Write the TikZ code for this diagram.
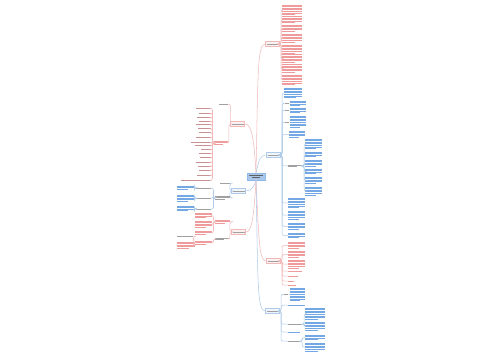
\documentclass[tikz,border=0pt]{standalone}
\usetikzlibrary{calc}
\definecolor{rtxt}{RGB}{240,155,155}
\definecolor{btxt}{RGB}{115,168,228}
\definecolor{gtxt}{RGB}{160,160,160}
\definecolor{rln}{RGB}{242,185,185}
\definecolor{bln}{RGB}{175,203,233}
\definecolor{gln}{RGB}{200,200,200}
\tikzset{
  conn/.style={line width=0.3pt,rounded corners=1.2pt},
  rc/.style={conn,draw=rln},
  bc/.style={conn,draw=bln},
  gc/.style={conn,draw=gln},
  tbox/.style={inner sep=0pt,anchor=north west},
  branch/.style={rectangle,inner sep=0pt,minimum width=0.28cm,minimum height=0.1cm,line width=0.3pt},
}
% text block: x y width lines colour name
\newcommand\tblk[6]{%
  \node[tbox,minimum width=#3*0.02cm,minimum height=#4*0.032cm] (#6) at (#1,#2) {};
  \foreach \k in {1,...,#4}{%
    \pgfmathsetmacro\ww{ifthenelse(and(\k==#4,#4>1),0.65*#3,#3)}%
    \draw[#5,line width=0.3pt] (#1,{#2+1.6*\k-0.8}) -- ++(\ww,0);}%
}
% branch node: name x y colour anchor
\newcommand\bnode[5]{%
  \node[branch,draw=#4,fill=#4!20,anchor=#5] (#1) at (#2,#3) {};
  \draw[gtxt,line width=0.4pt] ($(#1.west)+(1.5,0)$) -- ($(#1.east)+(-1.5,0)$);
}
% right-hand elbow connector and left-hand elbow connector
\newcommand\rcon[3]{\draw[#1] (#2.east) -- ++(1.5,0) |- (#3.west);}
\newcommand\lcon[3]{\draw[#1] (#2.west) -- ++(-1.5,0) |- (#3.east);}
\begin{document}
\begin{tikzpicture}[x=0.02cm,y=-0.02cm]
\fill[white] (0,0) rectangle (500,360);
\useasboundingbox (0,0) rectangle (500,360);

% centre
\node[draw=btxt!80,fill={rgb,255:red,170;green,200;blue,236},minimum width=0.36cm,minimum height=0.14cm,inner sep=0pt] (c) at (256,176.5) {};
\draw[gtxt!60!black,line width=0.4pt] (249,175.3) -- (263,175.3) (252,177.8) -- (260,177.8);

% main branches
\bnode{r1}{265}{44}{rln}{west}
\bnode{r2}{266}{155}{bln}{west}
\bnode{r3}{266}{261}{rln}{west}
\bnode{r4}{265}{311}{bln}{west}
\bnode{l1}{245}{124}{rln}{east}
\bnode{l2}{246}{191}{bln}{east}
\bnode{l3}{246}{232}{rln}{east}

\draw[rc,rounded corners=0pt] (c.north) .. controls (258,80) and (257,44) .. (r1.west);
\draw[bc,rounded corners=0pt] (c.north) .. controls (259,162) and (259,155) .. (r2.west);
\draw[rc,rounded corners=0pt] (c.south) .. controls (259,240) and (259,261) .. (r3.west);
\draw[bc,rounded corners=0pt] (c.south) .. controls (258,280) and (257,311) .. (r4.west);
\draw[rc,rounded corners=0pt] (c.north) .. controls (254,140) and (252,124) .. (l1.east);
\draw[bc,rounded corners=0pt] (c.south) .. controls (254,186) and (252,191) .. (l2.east);
\draw[rc,rounded corners=0pt] (c.south) .. controls (254,215) and (252,232) .. (l3.east);

% ---------- R1 ----------
\tblk{282}{4}{20}{7}{rtxt}{a1}
\tblk{282}{15.5}{20}{5}{rtxt}{a2}
\tblk{282}{24}{20}{5}{rtxt}{a3}
\tblk{282}{33}{20}{6}{rtxt}{a4}
\tblk{282}{44}{20}{6}{rtxt}{a5}
\tblk{282}{53.5}{20}{6}{rtxt}{a6}
\tblk{282}{63.5}{20}{6}{rtxt}{a7}
\tblk{282}{74}{20}{7}{rtxt}{a8}
\foreach \n in {a1,a2,a3,a4,a5,a6,a7,a8}{\rcon{rc}{r1}{\n}}

% ---------- R2 ----------
\tblk{284}{87}{18}{7}{btxt}{b1}
\tblk{285}{102}{4}{1}{gtxt}{bl1}
\tblk{285}{109}{4}{1}{gtxt}{bl2}
\tblk{285}{121}{4}{1}{gtxt}{bl3}
\tblk{290}{100}{16}{4}{btxt}{bb1}
\tblk{290}{107}{16}{4}{btxt}{bb2}
\tblk{290}{115}{16}{8}{btxt}{bb3}
\tblk{289}{130}{16}{5}{btxt}{b5}
\tblk{288}{164}{14}{2}{gtxt}{bs}
\tblk{288}{197}{17}{7}{btxt}{b6}
\tblk{288}{210}{17}{6}{btxt}{b7}
\tblk{288}{222}{17}{5}{btxt}{b8}
\tblk{288}{232}{17}{4}{btxt}{b9}
\foreach \n in {b1,bl1,bl2,bl3,b5,bs,b6,b7,b8,b9}{\rcon{bc}{r2}{\n}}
\draw[bc] (bl1.east) -- (bb1.west);
\draw[bc] (bl2.east) -- (bb2.west);
\draw[bc] (bl3.east) -- (bb3.west);
\tblk{305}{138}{17}{7}{btxt}{s1}
\tblk{305}{151}{17}{4}{btxt}{s2}
\tblk{305}{159}{17}{5}{btxt}{s3}
\tblk{305}{168}{17}{4}{btxt}{s4}
\tblk{305}{176}{17}{5}{btxt}{s5}
\tblk{305}{186}{17}{6}{btxt}{s6}
\foreach \n in {s1,s2,s3,s4,s5,s6}{\rcon{bc}{bs}{\n}}

% ---------- R3 ----------
\tblk{288}{241}{17}{5}{rtxt}{c1}
\tblk{288}{250}{17}{5}{rtxt}{c2}
\tblk{288}{259}{17}{6}{rtxt}{c3}
\tblk{288}{270}{14}{1}{rtxt}{c4}
\tblk{288}{275}{10}{1}{rtxt}{c5}
\tblk{288}{280}{6}{1}{rtxt}{c6}
\tblk{288}{284}{8}{1}{rtxt}{c7}
\foreach \n in {c1,c2,c3,c4,c5,c6,c7}{\rcon{rc}{r3}{\n}}

% ---------- R4 ----------
\tblk{284}{293}{4}{1}{gtxt}{d1}
\tblk{290}{287}{15}{9}{btxt}{d1b}
\tblk{288}{304}{17}{1}{btxt}{d2}
\tblk{288}{323}{14}{1}{gtxt}{d3}
\tblk{288}{331}{12}{1}{btxt}{d4}
\tblk{288}{340}{12}{1}{gtxt}{d5}
\foreach \n in {d1,d2,d3,d4,d5}{\rcon{bc}{r4}{\n}}
\draw[bc] (d1.east) -- (d1b.west);
\tblk{305}{307}{20}{8}{btxt}{e1}
\tblk{305}{321}{20}{6}{btxt}{e2}
\tblk{305}{334}{20}{4}{btxt}{e3}
\tblk{305}{342}{20}{6}{btxt}{e4}
\rcon{bc}{d3}{e1}
\rcon{bc}{d3}{e2}
\rcon{bc}{d5}{e3}
\rcon{bc}{d5}{e4}

% ---------- L1 ----------
\tblk{219}{103}{9}{1}{gtxt}{t1}
\draw[rc] (l1.north west) |- (t1.east);
\tblk{214}{140}{14}{3}{rtxt}{h1}
\lcon{rc}{l1}{h1}
\foreach \yy/\ww [count=\i] in {108/15,113/12,117/14,121/12,124.5/15,128.5/13,132.5/12,137/15,142/20,145.5/16,149.5/10,153.5/12,157.5/11,162/15,166/13,170/12,175/14,180/30}{%
  \tblk{211-\ww}{\yy-0.8}{\ww}{1}{rtxt!65!gray}{hi\i}
  \lcon{rc}{h1}{hi\i}
}

% ---------- L2 ----------
\tblk{220}{182}{10}{1}{gtxt}{f1}
\tblk{215}{195}{15}{3}{gtxt}{f2}
\lcon{bc}{l2}{f1}
\lcon{bc}{l2}{f2}
\tblk{196}{187}{15}{1}{gtxt}{i1}
\tblk{196}{197}{15}{1}{gtxt}{i2}
\tblk{196}{208}{15}{1}{gtxt}{i3}
\foreach \n in {i1,i2,i3}{\lcon{bc}{f2}{\n}}
\tblk{177}{185}{17}{3}{btxt}{k1}
\tblk{177}{194}{17}{5}{btxt}{k2}
\tblk{177}{205}{17}{4}{btxt}{k3}
\lcon{bc}{i1}{k1}
\lcon{bc}{i2}{k2}
\lcon{bc}{i3}{k3}

% ---------- L3 ----------
\tblk{215}{219}{15}{3}{rtxt}{g1}
\tblk{215}{237}{14}{2}{gtxt}{g2}
\lcon{rc}{l3}{g1}
\lcon{rc}{l3}{g2}
\tblk{195}{212}{17}{4}{rtxt}{m1}
\tblk{195}{220}{17}{5}{rtxt}{m2}
\tblk{195}{230}{17}{3}{rtxt}{m3}
\foreach \n in {m1,m2,m3}{\lcon{rc}{g1}{\n}}
\tblk{195}{240}{17}{3}{rtxt}{m4}
\lcon{rc}{g2}{m4}
\tblk{177}{235}{16}{1}{gtxt}{n1}
\tblk{177}{241}{18}{5}{rtxt}{n2}
\lcon{rc}{m4}{n1}
\lcon{rc}{m4}{n2}
\end{tikzpicture}
\end{document}
